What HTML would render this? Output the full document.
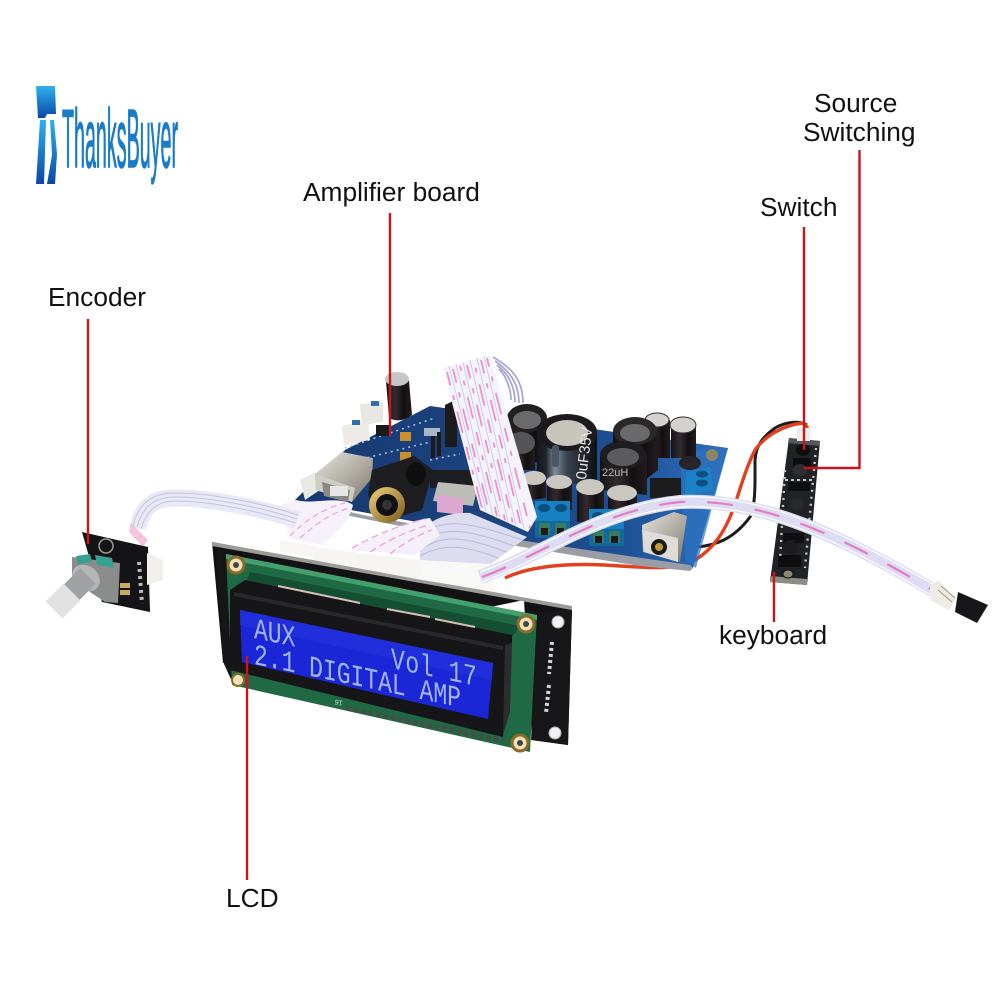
<!DOCTYPE html>
<html><head><meta charset="utf-8"><style>
html,body{margin:0;padding:0;background:#fff}
svg{display:block}
.l{font-family:"Liberation Sans",sans-serif;font-size:26.3px;fill:#111}
</style></head><body>
<svg width="1000" height="1000" viewBox="0 0 1000 1000" xmlns="http://www.w3.org/2000/svg">
<defs>
<linearGradient id="lg" x1="0" y1="0" x2="0" y2="1"><stop offset="0" stop-color="#2fb0ee"/><stop offset="1" stop-color="#0a48a6"/></linearGradient>
<linearGradient id="cap" x1="0" y1="0" x2="1" y2="0"><stop offset="0" stop-color="#151214"/><stop offset=".35" stop-color="#332b2f"/><stop offset=".7" stop-color="#120f11"/><stop offset="1" stop-color="#221d20"/></linearGradient>
<linearGradient id="big" x1="0" y1="0" x2="1" y2="0"><stop offset="0" stop-color="#141518"/><stop offset=".15" stop-color="#22262b"/><stop offset=".3" stop-color="#7f8c9c"/><stop offset=".5" stop-color="#3a424d"/><stop offset="1" stop-color="#0f0f12"/></linearGradient>
<linearGradient id="sil" x1="0" y1="0" x2="1" y2="1"><stop offset="0" stop-color="#e6e4de"/><stop offset=".6" stop-color="#a9a59c"/><stop offset="1" stop-color="#77736b"/></linearGradient>
<linearGradient id="gold" x1="0" y1="0" x2="1" y2="1"><stop offset="0" stop-color="#f2d27a"/><stop offset="1" stop-color="#7a5a18"/></linearGradient>
<linearGradient id="brd" x1="0" y1="0" x2="1" y2="0"><stop offset="0" stop-color="#17396f"/><stop offset=".45" stop-color="#1c4380"/><stop offset=".75" stop-color="#1e4f92"/><stop offset="1" stop-color="#2d70bd"/></linearGradient>
<g id="term"><rect x="0" y="0" width="35" height="20" fill="#1780c0"/><ellipse cx="9" cy="7" rx="6" ry="4" fill="#0b4f7e"/><ellipse cx="26" cy="7" rx="6" ry="4" fill="#0b4f7e"/><rect x="0" y="20" width="35" height="17" fill="#0f6a9f"/><rect x="4" y="22" width="11" height="12" fill="#3d7a5d"/><rect x="20" y="22" width="11" height="12" fill="#3d7a5d"/><rect x="6" y="27" width="7" height="7" fill="#1a1a1a"/><rect x="22" y="27" width="7" height="7" fill="#1a1a1a"/></g>
</defs>
<rect width="1000" height="1000" fill="#fff"/>

<!-- logo -->
<path d="M36 86H55L56 114H47L45 118H38Z" fill="url(#lg)"/>
<path d="M40 120H46L44 184H36Z" fill="url(#lg)"/>
<path d="M50 120H54L57 154L55 184H47L52 155Z" fill="url(#lg)"/>
<text x="62" y="167" font-family="Liberation Sans,sans-serif" font-size="83" fill="#1a7cc6" stroke="#1a7cc6" stroke-width="1.4" textLength="116" lengthAdjust="spacingAndGlyphs">ThanksBuyer</text>

<!-- wires behind -->
<path d="M698 547C715 545 733 540 750 517C756 505 755 480 755 460C756 445 763 437 775 428C787 421 800 421 807 425" fill="none" stroke="#1c1c1c" stroke-width="3"/>
<path d="M505 578C530 566 570 562 620 566C650 568 680 570 695 560C715 548 725 530 733 510C740 490 745 470 755 450C765 436 783 425 803 423L808 428" fill="none" stroke="#e2401f" stroke-width="3.4"/>

<!-- keyboard -->
<path d="M789 438L820 441L807 585L770 582Z" fill="#212226"/>
<path d="M789 438L820 441L819 446L788 443Z" fill="#55585a"/>
<path d="M770 576L807 579L807 585L770 582Z" fill="#8d8d85"/>
<rect x="797" y="428" width="13" height="13" fill="#ececec"/>
<rect x="793" y="458" width="18" height="11" fill="#0d0d0f"/><ellipse cx="803" cy="450" rx="7" ry="6" fill="#0e0e10"/>
<ellipse cx="800" cy="470" rx="7" ry="6" fill="#2e2e33"/>
<rect x="788" y="482" width="22" height="9" fill="#0e0e10"/>
<ellipse cx="797" cy="504" rx="7" ry="6" fill="#2a2a2e"/>
<rect x="783" y="533" width="21" height="10" fill="#0e0e10"/>
<ellipse cx="790" cy="547" rx="8" ry="7" fill="#1c1c1f"/>
<rect x="778" y="555" width="23" height="12" fill="#0e0e10"/>
<ellipse cx="788" cy="574" rx="5" ry="4" fill="#8b8a70" stroke="#111"/>
<path d="M785 470l-5 90M816 448l-11 120" stroke="#c9c9c9" stroke-width="2.4" stroke-dasharray="2 5" fill="none"/>
<path d="M785 480h28M781 520h26" stroke="#c9c9c9" stroke-width="2" stroke-dasharray="3 3"/>

<!-- board -->
<path d="M295 500L345 450L430 406L728 448L693 568L640 562Z" fill="url(#brd)"/>
<path d="M295 500L368 516L430 527L690 565L693 568L690 571L640 566L430 532L295 505Z" fill="#9a9da3"/>
<path d="M680 452L728 448L696 568L685 560Z" fill="#2c72bf" opacity=".7"/>
<circle cx="712" cy="455" r="6" fill="#8e8464"/>
<path d="M345 448l90 -30M350 462l80 -20M430 460l30 -6" stroke="#9fc0e0" stroke-width="1.6" stroke-dasharray="2 4" fill="none"/>

<!-- connectors top-left -->
<path d="M360 404L383 402L383 422L362 425Z" fill="#e9e7e2"/><rect x="371" y="401" width="8" height="5" fill="#2d6db0"/>
<path d="M342 426L368 420L370 440L344 445Z" fill="#ecebe6"/><rect x="352" y="420" width="8" height="5" fill="#2d6db0"/>
<path d="M300 480L316 472L320 490L305 500Z" fill="#e9e9e4"/>

<!-- small parts -->
<rect x="376" y="425" width="14" height="11" fill="#191a1c"/>
<rect x="400" y="432" width="11" height="9" fill="#c8912d"/><rect x="400" y="452" width="11" height="9" fill="#c8912d"/>
<rect x="424" y="428" width="16" height="8" fill="#e6ebee" opacity=".7"/>
<rect x="431" y="436" width="4" height="22" fill="#1c1c1c"/><rect x="437" y="432" width="4" height="24" fill="#1c1c1c"/>
<path d="M378 475l30 -14l10 12l-28 14z" fill="#22242b"/>
<path d="M430 470h52v18h-52z" fill="#1d1e22"/><path d="M438 482l40 4l-5 20l-40 -5z" fill="#bdbdb7"/>
<path d="M437 495l26 3v17l-26 -3z" fill="#dba7cf"/>
<path d="M445 405l12 -6v48h-12z" fill="#1c1a1c"/>

<!-- top-left cap -->
<path d="M386 381H409L412 415Q400 424 389 418Z" fill="url(#cap)"/>
<ellipse cx="397" cy="379" rx="12" ry="7" fill="#c4c6c8"/>

<!-- USB -->
<path d="M315 474L342 452L373 458L372 478L352 502L316 490Z" fill="url(#sil)"/>
<path d="M315 474L355 488L352 502L316 490Z" fill="#cfccc4"/>
<path d="M322 482L350 490L348 502L324 496Z" fill="#8a8882"/>
<rect x="330" y="486" width="18" height="10" fill="#e6e6e6"/>

<!-- RCA -->
<path d="M372 470L414 456L433 470L422 510L380 522L368 495Z" fill="#1e1d20"/>
<ellipse cx="416" cy="474" rx="10" ry="12" fill="#0f0f10"/>
<circle cx="387" cy="505" r="18" fill="url(#gold)"/>
<circle cx="387" cy="505" r="11" fill="#111"/>
<circle cx="387" cy="505" r="5" fill="#333"/>

<!-- capacitors behind -->
<path d="M507 418H547V462H507Z" fill="url(#cap)"/><ellipse cx="527" cy="418" rx="20" ry="14" fill="#23211f"/><ellipse cx="527" cy="420" rx="14" ry="9" fill="#6b6b6d"/>
<path d="M508 445H535V470H508Z" fill="url(#cap)"/><ellipse cx="521" cy="443" rx="14" ry="11" fill="#555"/>
<path d="M645 420H670V458H645Z" fill="url(#cap)"/><ellipse cx="657" cy="420" rx="12" ry="7" fill="#d4d2cc" stroke="#332f32"/>
<path d="M671 425H696V458H671Z" fill="url(#cap)"/><ellipse cx="683" cy="425" rx="13" ry="8" fill="#d4d2cc" stroke="#332f32"/>
<path d="M613 431H658V470L640 484H613Z" fill="url(#cap)"/><ellipse cx="635" cy="431" rx="22" ry="14" fill="#2a2829"/><ellipse cx="635" cy="433" rx="15" ry="9" fill="#6a6a6c"/>

<!-- big cap -->
<path d="M537 432H597V490L567 482L537 475Z" fill="url(#big)"/>
<path d="M537 432Q537 450 567 451Q597 450 597 432Z" fill="#1f1d1f"/>
<ellipse cx="567" cy="432" rx="30" ry="18" fill="#1c1a1c"/>
<ellipse cx="567" cy="433" rx="21" ry="13" fill="#c8c5bd"/>
<rect x="552" y="445" width="7" height="22" rx="3" fill="#4d5763"/>
<text transform="translate(586 480) rotate(-83)" font-family="Liberation Sans,sans-serif" font-size="15" fill="#e6e6e6">0uF35V</text>

<!-- 22uH -->
<path d="M600 455H647V495L600 490Z" fill="url(#cap)"/>
<ellipse cx="623" cy="455" rx="23" ry="14" fill="#1f1d1f"/><ellipse cx="623" cy="457" rx="16" ry="9" fill="#5c5c5e"/>
<text x="602" y="476" font-family="Liberation Sans,sans-serif" font-size="11" fill="#b6b6b6">22uH</text>

<!-- small caps front -->
<path d="M522 478H546V498L530 500H522Z" fill="url(#cap)"/><ellipse cx="534" cy="478" rx="12" ry="7" fill="#c9c7c0"/>
<path d="M547 482H572V510H547Z" fill="url(#cap)"/><ellipse cx="559" cy="482" rx="13" ry="7" fill="#c9c7c0"/>
<path d="M577 487H604V522H577Z" fill="url(#cap)"/><ellipse cx="590" cy="487" rx="14" ry="8" fill="#c9c7c0"/>
<path d="M608 493H637V510H608Z" fill="url(#cap)"/><ellipse cx="622" cy="493" rx="15" ry="8" fill="#c9c7c0"/>

<rect x="650" y="478" width="31" height="20" fill="#1d1c1e"/>
<ellipse cx="690" cy="463" rx="11" ry="7" fill="#26252a"/>

<!-- terminals -->
<use href="#term" x="535" y="501"/>
<use href="#term" x="589" y="509"/>
<path d="M686 472L711 467L713 490L685 496Z" fill="#1c82c8"/>
<ellipse cx="702" cy="474" rx="6" ry="3.5" fill="#0c4f80"/><ellipse cx="702" cy="483" rx="6" ry="3.5" fill="#0c4f80"/>

<!-- DC jack -->
<path d="M642 525L674 512L687 516L680 562L643 552Z" fill="url(#sil)"/>
<path d="M642 530L678 538L678 562L644 552Z" fill="#dedcd6"/>
<circle cx="659" cy="547" r="8" fill="#1a1a18"/><circle cx="659" cy="547" r="4" fill="#c09a3a"/>

<!-- grey loops -->
<g fill="none" stroke="#a9a8d0" stroke-width="1.8">
<path d="M493 357C512 368 523 380 523 403"/><path d="M495 361C508 370 519 382 519 403"/><path d="M497 365C506 372 515 384 515 402"/><path d="M499 369C504 374 511 386 511 400"/>
</g>

<!-- big ribbon -->
<path d="M443 368L490 355L537 517L528 532L480 510Z" fill="#f4f2fb"/>
<g fill="none" stroke="#cfcdea" stroke-width="1">
<path d="M449 366L486 511"/><path d="M456 364L493 516"/><path d="M463 362L500 518"/><path d="M470 360L508 522"/><path d="M477 358L516 526"/><path d="M484 356L524 528"/>
</g>
<g fill="none" stroke="#ec92c8" stroke-width="1.8" stroke-dasharray="14 10 5 12 22 14">
<path d="M447 372L482 508"/><path d="M453 369L489 512"/><path d="M460 366L497 516" stroke-dashoffset="9"/><path d="M467 365L505 520"/><path d="M474 362L513 524" stroke-dashoffset="18"/><path d="M481 360L521 526"/><path d="M487 358L530 528" stroke-dashoffset="5"/>
</g>

<!-- LCD back -->
<path d="M212 542L572 608L568 745L532 740L524 600L223 663Z" fill="#121214"/>
<path d="M212 542L572 606L572 610L212 546Z" fill="#9b9b98"/>
<path d="M216 548L230 552L234 686L224 664Z" fill="#161618"/>
<path d="M538 612L572 610L568 745L531 740Z" fill="#17171a"/>
<circle cx="558" cy="622" r="6" fill="#f2f2f2" stroke="#aaa"/><circle cx="555" cy="733" r="6" fill="#f2f2f2" stroke="#aaa"/>
<path d="M552 642l-3 32M549 685l-3 28" stroke="#d5d5d5" stroke-width="4" stroke-dasharray="3 3" fill="none"/>

<!-- lavender fan and white connectors -->
<path d="M420 530C435 518 450 512 470 513L527 537L490 565L420 561Z" fill="#dcdcf0"/>
<g fill="none" stroke="#b9b9dc" stroke-width="1"><path d="M420 536C440 520 460 518 522 540"/><path d="M420 543C440 528 460 526 514 546"/><path d="M420 550C440 536 460 534 506 552"/><path d="M420 556C440 545 460 543 498 558"/></g>
<path d="M350 550C370 540 400 522 430 518L440 535L415 555Z" fill="#f4eff8"/>
<g fill="none" stroke="#f0a5d2" stroke-width="1.4" stroke-dasharray="7 4"><path d="M352 548C375 535 400 525 425 519"/><path d="M370 552C385 542 405 532 428 525"/><path d="M390 554C400 546 415 536 432 530"/></g>
<path d="M280 505L296 500C310 505 340 495 353 505C350 520 335 535 322 545L290 538Z" fill="#f5f0f9"/>
<g fill="none" stroke="#f0a5d2" stroke-width="1.2" stroke-dasharray="6 4"><path d="M290 536C305 520 325 508 345 503"/><path d="M300 538C315 525 330 513 350 508"/></g>
<path d="M280 540L316 546L316 558L280 552Z" fill="#f7f6f4"/>
<path d="M313 547L420 560L422 580L313 560Z" fill="#f6f5f2"/>
<path d="M420 560L490 564L496 592L422 580Z" fill="#f8f8f6"/>

<!-- long ribbon -->
<path d="M480 577C540 556 600 510 680 502C760 498 840 535 934 591" fill="none" stroke="#dcdcf2" stroke-width="14"/>
<g fill="none" stroke="#fff" stroke-width="1.2"><path d="M480 572C540 551 600 505 680 497C760 493 840 530 936 586"/><path d="M482 582C540 561 600 515 680 507C760 503 840 540 932 596"/></g>
<path d="M482 577C540 556 600 510 680 502C760 498 840 535 934 591" fill="none" stroke="#e87ac0" stroke-width="2.2" stroke-dasharray="26 22"/>
<path d="M930 586L938 580L956 598L949 610L930 600Z" fill="#ecebe6"/>
<path d="M938 590l14 12M941 586l14 12" stroke="#b09a70" stroke-width="1"/>
<path d="M958 592L988 605L977 623L955 612Z" fill="#17171a"/>

<!-- encoder ribbon -->
<path d="M138 528C142 508 152 498 175 498C210 498 260 508 297 520" fill="none" stroke="#e8e8f6" stroke-width="17"/>
<g fill="none" stroke="#c4c4e0" stroke-width="1"><path d="M133 526C138 505 150 493 175 493C210 493 262 503 298 515"/><path d="M137 527C142 509 152 497 175 497C210 497 260 507 297 519"/><path d="M141 529C146 513 155 501 175 501C210 501 258 511 296 523"/></g>
<path d="M131 523L148 540L143 547L129 532Z" fill="#f6c3df"/>

<!-- encoder -->
<path d="M82 532L148 547L150 612L102 602Z" fill="#141416"/>
<path d="M147 553L163 560L163 580L147 585Z" fill="#f1efe9"/>
<path d="M72 557L120 563L118 603L105 602L90 592L72 575Z" fill="#8a8d8c"/>
<path d="M95 555L112 558L114 568L97 565Z" fill="#36a193"/><path d="M76 556L90 554L92 562L78 564Z" fill="#36a193"/>
<ellipse cx="86" cy="578" rx="15" ry="12" transform="rotate(40 86 578)" fill="#b5b7b7"/>
<path d="M88 576L66 598" stroke="#a0a2a3" stroke-width="22" fill="none"/>
<path d="M72 592L54 610" stroke="#e2e2e2" stroke-width="24" fill="none"/>
<rect x="120" y="583" width="10" height="5" fill="#c9aa62"/><rect x="120" y="590" width="10" height="5" fill="#c9aa62"/>
<circle cx="106" cy="546" r="7" fill="none" stroke="#999" stroke-width="1.5"/>
<path d="M139 562l3 42" stroke="#bbb" stroke-width="4" stroke-dasharray="3 4" fill="none"/>

<!-- LCD green pcb -->
<path d="M226 554L537 615L530 752L232 685Z" fill="#1f6a45"/>
<path d="M226 554L537 615L537 620L226 559Z" fill="#45a06f"/>
<path d="M250 572L520 626L510 640L245 585Z" fill="#154f33"/>
<circle cx="236" cy="565" r="8" fill="#f2e2ba" stroke="#8a6a26" stroke-width="3"/><circle cx="236" cy="565" r="3" fill="#444"/>
<circle cx="526" cy="624" r="8" fill="#f2e2ba" stroke="#8a6a26" stroke-width="3"/><circle cx="526" cy="624" r="3" fill="#444"/>
<circle cx="520" cy="743" r="8" fill="#f2e2ba" stroke="#8a6a26" stroke-width="3"/><circle cx="520" cy="743" r="3" fill="#444"/>
<circle cx="238" cy="680" r="6" fill="#f2e2ba" stroke="#8a6a26" stroke-width="2"/>

<!-- bezel -->
<path d="M230 590L245 580L512 635L512 643L503 737L230 670Z" fill="#161618"/>
<path d="M234 592L503 646L503 650L234 596Z" fill="#29292c"/>
<path d="M278 586L360 603" stroke="#d8bfb6" stroke-width="2"/><path d="M387 609L430 617" stroke="#d8bfb6" stroke-width="2"/><path d="M435 619L475 627" stroke="#d8bfb6" stroke-width="2"/>
<path d="M505 645L512 643L510 712L503 735Z" fill="#2d2d30"/>
<!-- blue -->
<path d="M240 610L493 663L488 719L242 662Z" fill="#1b27d6"/>
<path d="M240 610L493 663L492 680L240 625Z" fill="#2535dd" opacity=".6"/>
<!-- LCD text -->
<g font-family="Liberation Mono,monospace" font-size="23" fill="#a3b5f5">
<text transform="matrix(1 .21 0 1.3 254 638)">AUX</text>
<text transform="matrix(1 .21 0 1.3 254 664)">2.1 DIGITAL AMP</text>
<text transform="matrix(1 .21 0 1.3 391 668)" letter-spacing=".6">Vol 17</text>
</g>
<!-- header pins -->
<path d="M347 708L503 741" stroke="#4a4a48" stroke-width="5" stroke-dasharray="4 3.5"/>
<text transform="matrix(-1 -.2 .2 -1 343 701)" font-family="Liberation Sans,sans-serif" font-size="7" fill="#ddd">16</text>

<!-- red lines -->
<g stroke="#c9141c" stroke-width="2.4" fill="none">
<path d="M390 213V436"/>
<path d="M88 319V544"/>
<path d="M247 656V880"/>
<path d="M774 572V622"/>
<path d="M804 227V450"/>
<path d="M859.5 150V468H804"/>
</g>

<!-- labels -->
<text class="l" x="814" y="112">Source</text>
<text class="l" x="803" y="141">Switching</text>
<text class="l" x="760" y="216">Switch</text>
<text class="l" x="303" y="201">Amplifier board</text>
<text class="l" x="48" y="306">Encoder</text>
<text class="l" x="719" y="644">keyboard</text>
<text class="l" x="226" y="907">LCD</text>
</svg>
</body></html>
